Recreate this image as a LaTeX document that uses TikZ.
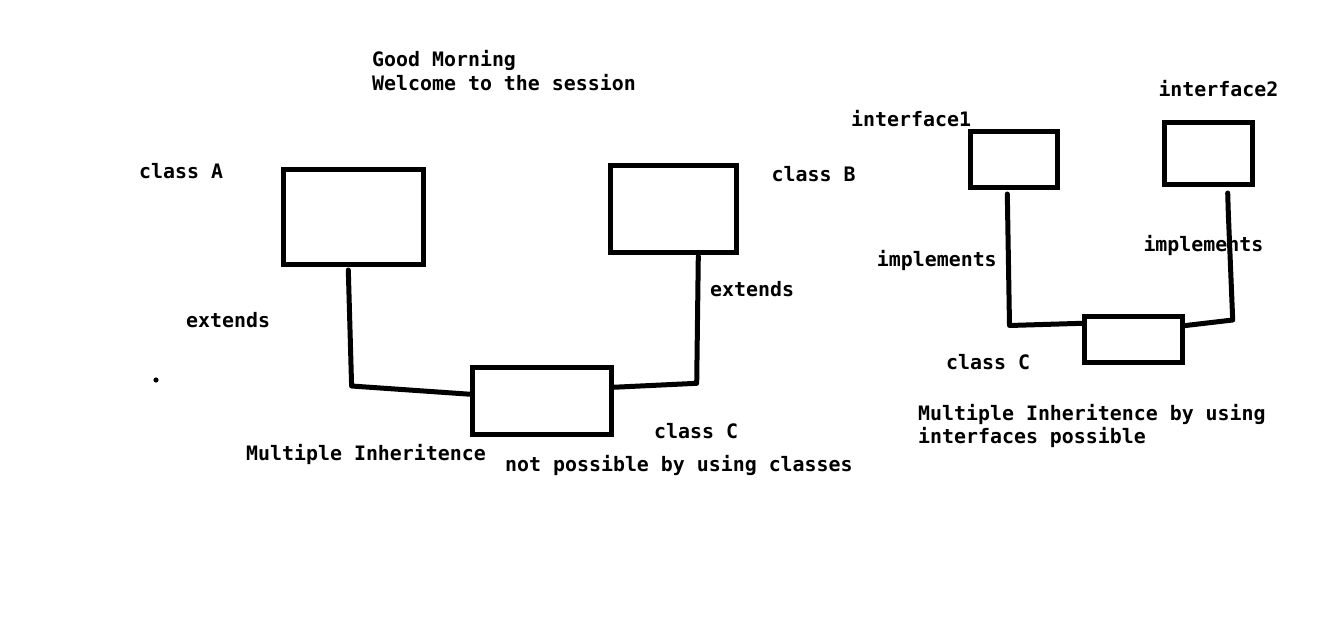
\documentclass[tikz,border=0pt]{standalone}
\usepackage{fontspec}
\newfontfamily\diagfont{DejaVu Sans Mono}[BoldFont={DejaVu Sans Mono Bold}]
\tikzset{
  x=1pt, y=-1pt,
  lbl/.style={anchor=base west, inner sep=0pt, font=\diagfont\bfseries\fontsize{19.9}{24}\selectfont, text=black},
  box/.style={draw=black, line width=5pt, rectangle, inner sep=0pt, fill=none},
  wire/.style={draw=black, line width=5pt, line join=round, line cap=round}
}
\begin{document}
\begin{tikzpicture}
\useasboundingbox[fill=white] (0,0) rectangle (1322,624);

% texts
\node[lbl] (t1) at (372,66) {Good Morning};
\node[lbl] (t2) at (372,90) {Welcome to the session};
\node[lbl] (lA) at (139,178.3) {class A};
\node[lbl] (lB) at (771.5,181) {class B};
\node[lbl] (le1) at (186,327.7) {extends};
\node[lbl] (le2) at (710,296.7) {extends};
\node[lbl] (lC) at (654,438) {class C};
\node[lbl] (lm1) at (246,460) {Multiple Inheritence};
\node[lbl] (lm2) at (505,471.7) {not possible by using classes};
\node[lbl] (li1) at (851,126) {interface1};
\node[lbl] (li2) at (1158.3,96) {interface2};
\node[lbl] (lim1) at (876.7,266.7) {implements};
\node[lbl] (lim2) at (1143.3,251.7) {implements};
\node[lbl] (lC2) at (946,369.3) {class C};
\node[lbl] (lr1) at (918,420) {Multiple Inheritence by using};
\node[lbl] (lr2) at (918,443.3) {interfaces possible};

% dot
\fill[black] (156,380) circle (2.6);

% boxes
\node[box, minimum width=140pt, minimum height=94.5pt] (A) at (353.75,217) {};
\node[box, minimum width=126.5pt, minimum height=87pt] (B) at (673.25,208.5) {};
\node[box, minimum width=139.5pt, minimum height=67.5pt] (C) at (541.75,400.75) {};
\node[box, minimum width=86.5pt, minimum height=55.5pt] (I1) at (1013.75,159.25) {};
\node[box, minimum width=88pt, minimum height=62pt] (I2) at (1208,153) {};
\node[box, minimum width=98pt, minimum height=46pt] (C2) at (1133,339) {};

% connector points
\coordinate (aS) at (348.3,270);
\coordinate (aK) at (351.6,386);
\coordinate (cL) at (471,394.3);
\coordinate (cR) at (613,387.3);
\coordinate (bK) at (696.7,383.3);
\coordinate (bS) at (698.3,256);
\coordinate (i1S) at (1007.3,194);
\coordinate (i1K) at (1009.5,325.5);
\coordinate (c2L) at (1082,323.3);
\coordinate (c2R) at (1184,325.7);
\coordinate (i2K) at (1232.7,320);
\coordinate (i2M) at (1228.3,213);
\coordinate (i2S) at (1227.7,193);

% connectors
\draw[wire] (aS) -- (aK) -- (cL);
\draw[wire] (cR) -- (bK) -- (bS);
\draw[wire] (i1S) -- (i1K) -- (c2L);
\draw[wire] (c2R) -- (i2K) -- (i2M) -- (i2S);
\end{tikzpicture}
\end{document}
